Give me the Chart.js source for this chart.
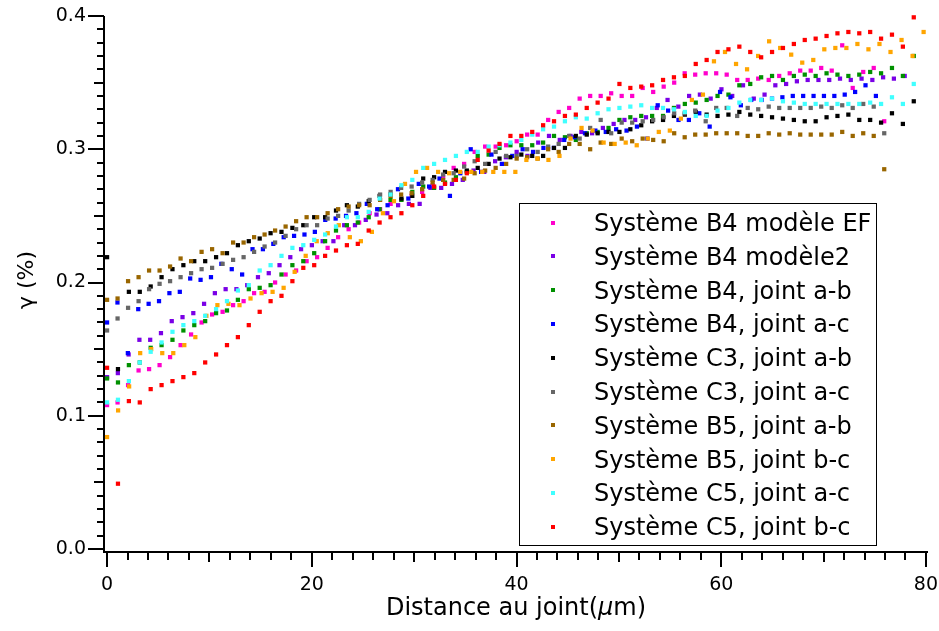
<!DOCTYPE html>
<html>
<head>
<meta charset="utf-8">
<script src="https://cdn.jsdelivr.net/npm/chart.js@4.4.1/dist/chart.umd.min.js"></script>
<style>
  html, body { margin: 0; padding: 0; background: #fff; }
</style>
</head>
<body>
<canvas id="myChart" width="939" height="631"></canvas>
<script>
// ---- data ----
const seriesNames = [
    'Système B4 modèle EF',
    'Système B4 modèle2',
    'Système B4, joint a-b',
    'Système B4, joint a-c',
    'Système C3, joint a-b',
    'Système C3, joint a-c',
    'Système B5, joint a-b',
    'Système B5, joint b-c',
    'Système C5, joint a-c',
    'Système C5, joint b-c'
];
const seriesColors = ['#ff00cc', '#7a00e6', '#009000', '#0000ff', '#000000',
    '#666666', '#996600', '#ffa500', '#40ffff', '#ff0000'];
// sampling step along the distance axis (µm) for each series
const pixelSize = [1.026, 1.053, 1.065, 1.015, 1.065, 1.026, 1.026, 1.078, 1.065, 1.065];
const xTickLabels = [0, 20, 40, 60, 80];
const yTickLabels = [0.0, 0.1, 0.2, 0.3, 0.4];

const b4ModeleEF = [0.108, 0.110, 0.123, 0.134, 0.135, 0.138, 0.144, 0.153, 0.161, 0.170,
    0.176, 0.178, 0.183, 0.186, 0.192, 0.193, 0.200, 0.206, 0.209, 0.216,
    0.219, 0.226, 0.234, 0.240, 0.245, 0.252, 0.255, 0.259, 0.262, 0.265,
    0.268, 0.273, 0.279, 0.286, 0.289, 0.298, 0.302, 0.302, 0.303, 0.306,
    0.311, 0.311, 0.322, 0.328, 0.331, 0.338, 0.340, 0.340, 0.342, 0.340,
    0.340, 0.346, 0.343, 0.347, 0.350, 0.357, 0.356, 0.357, 0.357, 0.356,
    0.352, 0.352, 0.353, 0.352, 0.355, 0.357, 0.359, 0.359, 0.361, 0.359,
    0.378, 0.346, 0.358, 0.361, 0.321];
const b4Modele2 = [0.129, 0.132, 0.146, 0.157, 0.157, 0.162, 0.171, 0.174, 0.177, 0.184,
    0.192, 0.195, 0.195, 0.198, 0.204, 0.207, 0.213, 0.219, 0.225, 0.228,
    0.231, 0.231, 0.243, 0.243, 0.247, 0.251, 0.252, 0.258, 0.259, 0.259,
    0.271, 0.271, 0.274, 0.277, 0.284, 0.283, 0.291, 0.294, 0.298, 0.295,
    0.305, 0.310, 0.307, 0.310, 0.313, 0.312, 0.316, 0.319, 0.322, 0.322,
    0.324, 0.331, 0.337, 0.332, 0.340, 0.341, 0.338, 0.345, 0.340, 0.348,
    0.338, 0.341, 0.348, 0.349, 0.351, 0.352, 0.352, 0.352, 0.353, 0.352,
    0.353, 0.352, 0.354, 0.353, 0.355];
const b4JointAB = [0.128, 0.125, 0.138, 0.140, 0.151, 0.153, 0.157, 0.164, 0.168, 0.171,
    0.177, 0.179, 0.187, 0.195, 0.196, 0.198, 0.206, 0.213, 0.216, 0.222,
    0.231, 0.239, 0.243, 0.245, 0.249, 0.255, 0.262, 0.262, 0.268, 0.272,
    0.271, 0.275, 0.279, 0.283, 0.295, 0.296, 0.301, 0.303, 0.303, 0.303,
    0.305, 0.310, 0.309, 0.307, 0.312, 0.313, 0.316, 0.322, 0.324, 0.325,
    0.325, 0.325, 0.331, 0.334, 0.335, 0.337, 0.340, 0.341, 0.348, 0.349,
    0.354, 0.355, 0.352, 0.355, 0.356, 0.355, 0.357, 0.356, 0.355, 0.356,
    0.358, 0.357, 0.361, 0.355, 0.370];
const b4JointAC = [0.170, 0.185, 0.147, 0.180, 0.184, 0.186, 0.192, 0.193, 0.203, 0.202,
    0.204, 0.214, 0.210, 0.206, 0.225, 0.225, 0.229, 0.234, 0.235, 0.236,
    0.238, 0.247, 0.248, 0.250, 0.252, 0.259, 0.255, 0.258, 0.270, 0.263,
    0.274, 0.272, 0.278, 0.265, 0.282, 0.300, 0.283, 0.296, 0.289, 0.295,
    0.300, 0.298, 0.301, 0.301, 0.307, 0.309, 0.312, 0.314, 0.313, 0.315,
    0.314, 0.317, 0.308, 0.333, 0.329, 0.322, 0.322, 0.327, 0.317, 0.343,
    0.339, 0.333, 0.337, 0.337, 0.338, 0.339, 0.340, 0.340, 0.340, 0.340,
    0.340, 0.341, 0.343, 0.348, 0.340];
const c3JointAB = [0.219, 0.135, 0.193, 0.193, 0.197, 0.204, 0.210, 0.213, 0.216, 0.216,
    0.219, 0.222, 0.228, 0.231, 0.233, 0.237, 0.238, 0.241, 0.243, 0.249,
    0.249, 0.254, 0.258, 0.257, 0.261, 0.265, 0.266, 0.263, 0.265, 0.278,
    0.279, 0.283, 0.284, 0.284, 0.286, 0.289, 0.293, 0.294, 0.296, 0.295,
    0.295, 0.301, 0.301, 0.310, 0.311, 0.312, 0.313, 0.313, 0.315, 0.318,
    0.321, 0.322, 0.325, 0.326, 0.328, 0.326, 0.325, 0.326, 0.328, 0.326,
    0.325, 0.324, 0.323, 0.322, 0.321, 0.321, 0.324, 0.325, 0.326, 0.322,
    0.322, 0.320, 0.327, 0.319, 0.336];
const c3JointAC = [0.164, 0.173, 0.181, 0.186, 0.195, 0.199, 0.201, 0.204, 0.207, 0.210,
    0.211, 0.214, 0.217, 0.219, 0.223, 0.227, 0.230, 0.235, 0.240, 0.243,
    0.243, 0.248, 0.250, 0.254, 0.259, 0.262, 0.266, 0.268, 0.271, 0.272,
    0.275, 0.277, 0.281, 0.282, 0.287, 0.291, 0.289, 0.298, 0.295, 0.295,
    0.300, 0.298, 0.302, 0.304, 0.310, 0.308, 0.316, 0.322, 0.312, 0.320,
    0.320, 0.321, 0.322, 0.324, 0.327, 0.327, 0.329, 0.321, 0.331, 0.331,
    0.325, 0.331, 0.330, 0.332, 0.331, 0.331, 0.331, 0.331, 0.332, 0.331,
    0.333, 0.331, 0.334, 0.332, 0.312];
const b5JointAB = [0.187, 0.188, 0.201, 0.204, 0.209, 0.209, 0.212, 0.218, 0.216, 0.223,
    0.225, 0.222, 0.230, 0.230, 0.234, 0.236, 0.239, 0.242, 0.246, 0.249,
    0.249, 0.252, 0.255, 0.257, 0.258, 0.258, 0.262, 0.265, 0.266, 0.267,
    0.270, 0.275, 0.277, 0.277, 0.278, 0.282, 0.284, 0.286, 0.289, 0.293,
    0.294, 0.293, 0.300, 0.298, 0.304, 0.304, 0.300, 0.305, 0.304, 0.308,
    0.306, 0.308, 0.307, 0.306, 0.312, 0.309, 0.311, 0.311, 0.312, 0.312,
    0.312, 0.310, 0.310, 0.312, 0.311, 0.312, 0.311, 0.311, 0.311, 0.311,
    0.313, 0.310, 0.312, 0.310, 0.285];
const b5JointBC = [0.084, 0.104, 0.122, 0.147, 0.150, 0.147, 0.147, 0.153, 0.159, 0.175,
    0.183, 0.184, 0.183, 0.188, 0.192, 0.193, 0.196, 0.208, 0.220, 0.231,
    0.237, 0.243, 0.234, 0.231, 0.238, 0.252, 0.261, 0.274, 0.283, 0.286,
    0.283, 0.282, 0.283, 0.283, 0.283, 0.283, 0.283, 0.283, 0.292, 0.293,
    0.292, 0.295, 0.308, 0.316, 0.314, 0.305, 0.304, 0.305, 0.303, 0.308,
    0.313, 0.314, 0.323, 0.337, 0.341, 0.366, 0.373, 0.364, 0.360, 0.370,
    0.381, 0.376, 0.371, 0.365, 0.367, 0.375, 0.376, 0.376, 0.379, 0.375,
    0.379, 0.373, 0.382, 0.370, 0.388];
const c5JointAC = [0.110, 0.112, 0.126, 0.140, 0.148, 0.155, 0.163, 0.168, 0.171, 0.175,
    0.180, 0.186, 0.194, 0.198, 0.209, 0.213, 0.220, 0.226, 0.228, 0.232,
    0.236, 0.242, 0.249, 0.249, 0.253, 0.263, 0.266, 0.273, 0.277, 0.286,
    0.289, 0.292, 0.295, 0.298, 0.298, 0.302, 0.303, 0.305, 0.307, 0.311,
    0.315, 0.317, 0.321, 0.324, 0.323, 0.327, 0.330, 0.331, 0.332, 0.333,
    0.331, 0.331, 0.330, 0.328, 0.325, 0.325, 0.329, 0.331, 0.335, 0.337,
    0.337, 0.338, 0.336, 0.335, 0.334, 0.334, 0.334, 0.334, 0.334, 0.334,
    0.335, 0.334, 0.339, 0.334, 0.349];
const c5JointBC = [0.136, 0.049, 0.111, 0.110, 0.120, 0.123, 0.126, 0.129, 0.132, 0.140,
    0.146, 0.153, 0.159, 0.168, 0.178, 0.186, 0.190, 0.201, 0.211, 0.213,
    0.220, 0.224, 0.228, 0.229, 0.239, 0.245, 0.249, 0.252, 0.258, 0.265,
    0.272, 0.274, 0.277, 0.282, 0.292, 0.299, 0.304, 0.310, 0.310, 0.313,
    0.318, 0.321, 0.325, 0.326, 0.331, 0.335, 0.338, 0.349, 0.346, 0.347,
    0.348, 0.352, 0.354, 0.355, 0.364, 0.367, 0.373, 0.375, 0.377, 0.373,
    0.369, 0.373, 0.376, 0.379, 0.382, 0.383, 0.385, 0.387, 0.388, 0.387,
    0.388, 0.383, 0.386, 0.377, 0.399];

const seriesValues = [b4ModeleEF, b4Modele2, b4JointAB, b4JointAC, c3JointAB,
    c3JointAC, b5JointAB, b5JointBC, c5JointAC, c5JointBC];

const FONT = "'DejaVu Sans', 'Lucida Grande', sans-serif";

// axes drawn Igor style: offset lines, major / mid / minor ticks pointing out
const igorAxes = {
    id: 'igorAxes',
    beforeDatasetsDraw(chart) {
        const { ctx, chartArea: a, scales } = chart;
        const x = scales.x, y = scales.y;
        ctx.save();
        ctx.strokeStyle = '#000';
        ctx.lineWidth = 2;
        ctx.beginPath();
        ctx.moveTo(a.left, a.top);
        ctx.lineTo(a.left, a.bottom + 1);
        ctx.moveTo(a.left - 1, a.bottom);
        ctx.lineTo(a.right, a.bottom);
        for (let k = 0; k <= 40; k++) {
            const py = Math.round(y.getPixelForValue(k / 100));
            const len = k % 10 === 0 ? 16 : (k % 5 === 0 ? 10 : 7);
            ctx.moveTo(a.left, py);
            ctx.lineTo(a.left - len, py);
        }
        for (let k = 0; k <= 80; k += 2) {
            const px = Math.round(x.getPixelForValue(k));
            const len = k % 20 === 0 ? 15 : (k % 10 === 0 ? 10 : 8);
            ctx.moveTo(px, a.bottom);
            ctx.lineTo(px, a.bottom + len);
        }
        ctx.stroke();

        // axis titles
        ctx.fillStyle = '#000';
        ctx.textBaseline = 'alphabetic';
        const cx = (a.left + a.right) / 2;
        const parts = [['Distance au joint(', 'normal'], ['\u00b5', 'italic'], ['m)', 'normal']];
        let total = 0;
        parts.forEach(p => { ctx.font = p[1] + ' 24px ' + FONT; total += ctx.measureText(p[0]).width; });
        let tx = cx - total / 2;
        parts.forEach(p => {
            ctx.font = p[1] + ' 24px ' + FONT;
            ctx.fillText(p[0], tx, 615);
            tx += ctx.measureText(p[0]).width;
        });
        ctx.translate(27, 280);
        ctx.rotate(-Math.PI / 2);
        ctx.font = '22px ' + FONT;
        ctx.textAlign = 'center';
        ctx.textBaseline = 'middle';
        ctx.fillText('\u03b3 (%)', 0, 0);
        ctx.restore();
    }
};

// legend box inside the plot
const boxLegend = {
    id: 'boxLegend',
    afterDatasetsDraw(chart) {
        const ctx = chart.ctx;
        ctx.save();
        ctx.fillStyle = '#fff';
        ctx.fillRect(519.5, 203.5, 357, 342);
        ctx.strokeStyle = '#000';
        ctx.lineWidth = 1;
        ctx.strokeRect(519.5, 203.5, 357, 342);
        ctx.font = '24px ' + FONT;
        ctx.textBaseline = 'alphabetic';
        chart.data.datasets.forEach((ds, i) => {
            const yc = 222.5 + i * 33.8;
            ctx.fillStyle = ds.backgroundColor;
            ctx.fillRect(551, Math.round(yc) - 2, 4, 4);
            ctx.fillStyle = '#000';
            ctx.fillText(ds.label, 594, yc + 8.5);
        });
        ctx.restore();
    }
};

const datasets = seriesNames.map((name, i) => ({
    label: name,
    data: seriesValues[i].map((v, k) => ({ x: k * pixelSize[i], y: v })),
    backgroundColor: seriesColors[i],
    borderColor: seriesColors[i],
    pointStyle: 'rect',
    pointRadius: 3,
    pointBorderWidth: 0,
    order: seriesNames.length - i
}));

new Chart(document.getElementById('myChart'), {
    type: 'scatter',
    data: { datasets: datasets },
    options: {
        responsive: false,
        animation: false,
        devicePixelRatio: 1,
        clip: false,
        layout: { padding: { left: 0, right: 11, top: 16, bottom: 0 } },
        plugins: { legend: { display: false }, tooltip: { enabled: false } },
        scales: {
            x: {
                type: 'linear',
                min: -0.3,
                max: 80.2,
                grid: { display: false, drawTicks: false },
                border: { display: false },
                afterBuildTicks: s => { s.ticks = xTickLabels.map(v => ({ value: v })); },
                afterFit: s => {
                    s.height = 79;
                    s.paddingLeft = 0; s.paddingRight = 0;
                },
                ticks: {
                    padding: 22, color: '#000', maxRotation: 0, autoSkip: false,
                    font: { family: FONT, size: 19 },
                    callback: v => String(v)
                }
            },
            y: {
                type: 'linear',
                min: -0.00225,
                max: 0.4,
                grid: { display: false, drawTicks: false },
                border: { display: false },
                afterBuildTicks: s => { s.ticks = yTickLabels.map(v => ({ value: v })); },
                afterFit: s => {
                    s.width = 104;
                    s.paddingTop = 0; s.paddingBottom = 0;
                },
                ticks: {
                    padding: 18, color: '#000', autoSkip: false,
                    font: { family: FONT, size: 19 },
                    callback: v => v.toFixed(1)
                }
            }
        }
    },
    plugins: [igorAxes, boxLegend]
});
</script>
</body>
</html>
